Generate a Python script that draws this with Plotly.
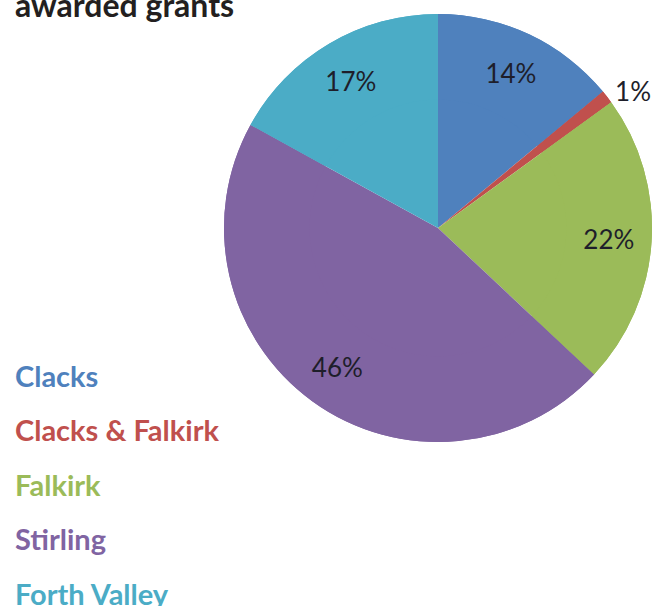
import plotly.graph_objects as go

categories = ["Clacks", "Clacks & Falkirk", "Falkirk", "Stirling", "Forth Valley"]
values = [14, 1, 22, 46, 17]
colors = ["#4F81BD", "#C0504D", "#9BBB59", "#8064A2", "#4BACC6"]
text_positions = ["inside", "outside", "inside", "inside", "inside"]
title_text = "awarded grants"

W, H = 665, 606
cx, cy, r = 438, 228, 214
dom = dict(x=[(cx - r) / W, (cx + r) / W], y=[1 - (cy + r) / H, 1 - (cy - r) / H])

fig = go.Figure()
# base full pie (fills the centre)
fig.add_trace(go.Pie(
    labels=categories, values=values, sort=False, direction="clockwise", rotation=0,
    marker=dict(colors=colors, line=dict(width=0)),
    textinfo="none", hoverinfo="skip", showlegend=False, domain=dom,
))
# ring on top carrying the percentage labels near the rim
fig.add_trace(go.Pie(
    labels=categories, values=values, sort=False, direction="clockwise", rotation=0,
    hole=0.6,
    marker=dict(colors=colors, line=dict(width=0)),
    texttemplate="%{percent:.0%}",
    textposition=text_positions,
    insidetextorientation="horizontal",
    textfont=dict(family="Lato, sans-serif", size=26, color="#1e1e2a"),
    showlegend=False, domain=dom,
))

anns = [dict(text="<b>" + title_text + "</b>", x=13 / W, y=1 - 26 / H, xref="paper", yref="paper",
             xanchor="left", yanchor="bottom", showarrow=False,
             font=dict(family="Lato, sans-serif", size=32, color="#231f20"))]
for i, (cat, col) in enumerate(zip(categories, colors)):
    anns.append(dict(text="<b>" + cat + "</b>", x=13 / W, y=1 - (375 + 54.5 * i) / H,
                     xref="paper", yref="paper", xanchor="left", yanchor="middle",
                     showarrow=False, font=dict(family="Lato, sans-serif", size=29, color=col)))

fig.update_layout(
    width=W, height=H,
    margin=dict(l=0, r=0, t=0, b=0),
    paper_bgcolor="white",
    plot_bgcolor="white",
    annotations=anns,
)
fig.write_html("out.html", config={"displayModeBar": False},
               post_script="document.body.style.margin='0';")
